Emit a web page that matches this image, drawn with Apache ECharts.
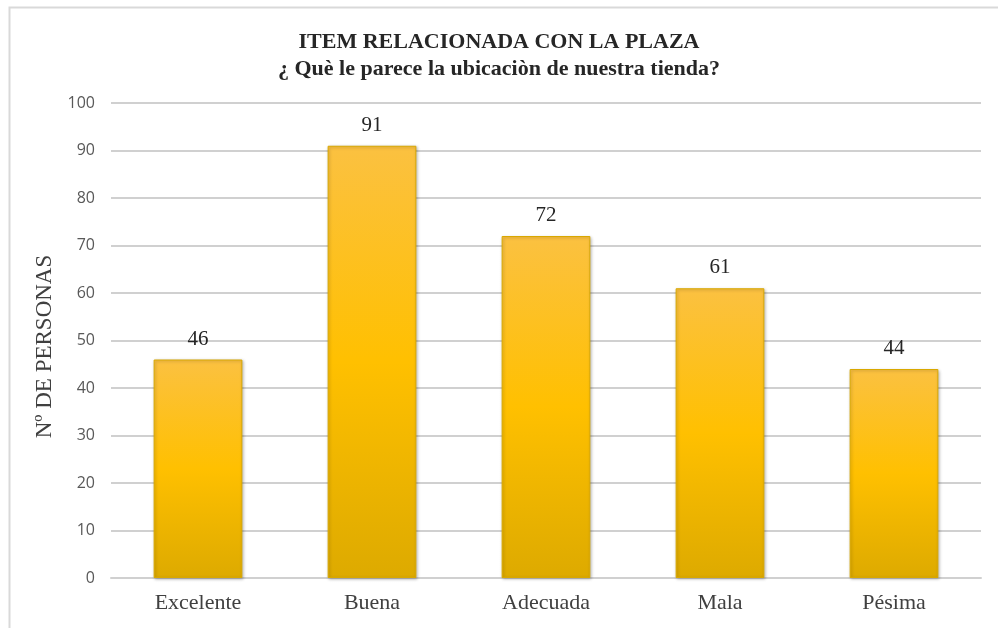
<!DOCTYPE html>
<html>
<head>
<meta charset="utf-8">
<script src="https://cdn.jsdelivr.net/npm/echarts@6/dist/echarts.min.js"></script>
<style>
  html, body { margin: 0; padding: 0; background: #ffffff; }
  #main { width: 998px; height: 628px; }
</style>
</head>
<body>
<div id="main"></div>
<script>
var categories = ['Excelente', 'Buena', 'Adecuada', 'Mala', 'Pésima'];
var personas = [46, 91, 72, 61, 44];
var titulo = 'ITEM RELACIONADA CON LA PLAZA';
var subtitulo = '¿ Què le parece la ubicaciòn de nuestra tienda?';

var chart = echarts.init(document.getElementById('main'));

// relleno degradado de las barras
var barColor = new echarts.graphic.LinearGradient(0, 0, 0, 1, [
  { offset: 0, color: '#FBC141' },
  { offset: 0.5, color: '#FFC000' },
  { offset: 1, color: '#DDAA00' }
]);

chart.setOption({
  backgroundColor: '#ffffff',
  animation: false,
  graphic: [{
    type: 'rect',
    shape: { x: 9.5, y: 7.5, width: 1000, height: 640 },
    style: { fill: 'none', stroke: '#d9d9d9', lineWidth: 2 },
    z: -1
  }],
  title: {
    text: titulo,
    subtext: subtitulo,
    left: 'center',
    top: 26,
    itemGap: 5,
    textStyle: {
      fontFamily: 'Liberation Serif',
      fontWeight: 'bold',
      fontSize: 22,
      color: '#262626'
    },
    subtextStyle: {
      fontFamily: 'Liberation Serif',
      fontWeight: 'bold',
      fontSize: 22,
      color: '#262626'
    }
  },
  grid: {
    left: 111,
    right: 17,
    top: 103,
    bottom: 50
  },
  xAxis: {
    type: 'category',
    data: categories,
    axisTick: { show: false },
    axisLine: { lineStyle: { color: '#d0d0d0', width: 2 } },
    axisLabel: {
      fontFamily: 'Liberation Serif',
      fontSize: 22,
      color: '#404040',
      margin: 14
    }
  },
  yAxis: {
    type: 'value',
    min: 0,
    max: 100,
    interval: 10,
    name: 'Nº DE PERSONAS',
    nameLocation: 'middle',
    nameGap: 52,
    nameTextStyle: {
      fontFamily: 'Liberation Serif',
      fontSize: 23,
      color: '#404040',
      padding: [0, 12, 0, 0]
    },
    axisLine: { show: false },
    axisTick: { show: false },
    axisLabel: {
      fontFamily: 'Open Sans',
      fontSize: 16,
      color: '#595959',
      margin: 16
    },
    splitLine: { lineStyle: { color: '#d0d0d0', width: 2 } }
  },
  series: [{
    type: 'bar',
    data: personas,
    barWidth: '51%',
    itemStyle: {
      color: barColor,
      borderColor: '#d9a800',
      borderWidth: 1,
      shadowColor: 'rgba(0,0,0,0.25)',
      shadowBlur: 3,
      shadowOffsetX: 1,
      shadowOffsetY: 1
    },
    label: {
      show: true,
      position: 'top',
      distance: 10,
      fontFamily: 'Liberation Serif',
      fontSize: 21,
      color: '#262626'
    }
  }]
});
</script>
</body>
</html>
